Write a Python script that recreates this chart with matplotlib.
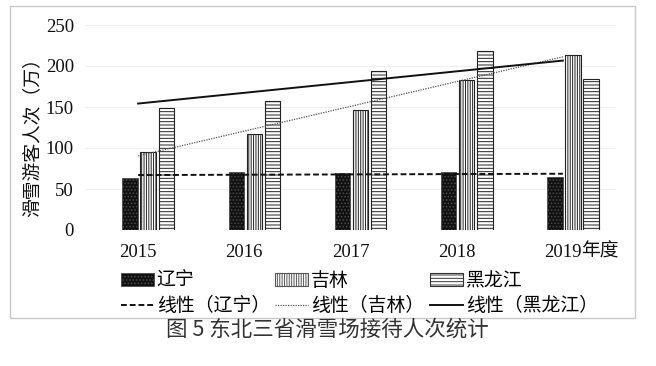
import numpy as np
import matplotlib
matplotlib.use("Agg")
import matplotlib.pyplot as plt
from matplotlib.patches import Rectangle, Patch
from matplotlib.lines import Line2D

years = ["2015", "2016", "2017", "2018", "2019"]
year_suffix = "年度"
liaoning = [63, 71, 69, 71, 65]
jilin = [95, 117, 146, 183, 213]
heilongjiang = [149, 157, 194, 218, 184]
series_names = ["辽宁", "吉林", "黑龙江"]
trend_names = ["线性（辽宁）", "线性（吉林）", "线性（黑龙江）"]
yticks = [0, 50, 100, 150, 200, 250]
ylabel = "滑雪游客人次（万）"
caption = "图 5 东北三省滑雪场接待人次统计"

plt.rcParams['font.family'] = ['Liberation Serif', 'Noto Sans CJK SC', 'DejaVu Sans']
plt.rcParams['hatch.linewidth'] = 0.7

W, H = 656, 366
fig = plt.figure(figsize=(W / 100, H / 100), dpi=100)

# outer frame
fig.patches.append(Rectangle((10 / W, 1 - 318 / H), 625 / W, 312 / H,
                             transform=fig.transFigure, fill=False,
                             edgecolor='#c8c8c8', linewidth=1.0))

ax = fig.add_axes([85 / W, 1 - 230 / H, 531 / W, 205 / H])
x = np.arange(len(years))
bw = 0.145
offsets = [-0.075, 0.095, 0.265]

ax.bar(x + offsets[0], liaoning, bw, facecolor='#111111', edgecolor='#4a4a4a',
       hatch='.....', linewidth=0.6, zorder=3)
ax.bar(x + offsets[1], jilin, bw, facecolor='white', edgecolor='#222222',
       hatch='|||||||', linewidth=0.8, zorder=3)
ax.bar(x + offsets[2], heilongjiang, bw, facecolor='white', edgecolor='#222222',
       hatch='-----', linewidth=0.8, zorder=3)

styles = [dict(color='#111111', linestyle=(0, (3, 1.5)), linewidth=1.4),
          dict(color='#555555', linestyle=(0, (1, 1)), linewidth=0.9),
          dict(color='#111111', linestyle='-', linewidth=1.4)]
for vals, st in zip([liaoning, jilin, heilongjiang], styles):
    k, b = np.polyfit(x, vals, 1)
    xs = np.array([x[0], x[-1]], dtype=float)
    ax.plot(xs, k * xs + b, zorder=4, **st)

ax.set_xlim(-0.5, 4.5)
ax.set_ylim(0, 250)
ax.set_yticks(yticks)
ax.set_yticklabels([str(v) for v in yticks], fontsize=13.5)
ax.set_xticks(x)
ax.set_xticklabels(years, fontsize=13.5)
ax.tick_params(axis='both', length=0, colors='#111111')
ax.tick_params(axis='y', pad=8)
ax.tick_params(axis='x', pad=10)
for s in ax.spines.values():
    s.set_visible(False)
ax.yaxis.grid(True, color='#eeeeee', linewidth=0.8, zorder=0)
ax.set_axisbelow(True)

# "年度" right after the last year label
ax.annotate(year_suffix, xy=(x[-1], 0), xycoords=('data', 'axes fraction'),
            xytext=(18, -21), textcoords='offset pixels', ha='left', va='center',
            fontsize=13.5, color='#111111', family=['Noto Sans CJK SC'])

ax.set_ylabel(ylabel, fontsize=13.5, family=['Noto Sans CJK SC'], color='#111111')
ax.yaxis.set_label_coords((42 - 85) / 531, (230 - 133) / 205)

handles = [
    Patch(facecolor='#111111', edgecolor='#4a4a4a', hatch='.....', linewidth=0.6),
    Line2D([], [], **styles[0]),
    Patch(facecolor='white', edgecolor='#555555', hatch='|||||||', linewidth=0.8),
    Line2D([], [], **styles[1]),
    Patch(facecolor='white', edgecolor='#333333', hatch='-----', linewidth=0.8),
    Line2D([], [], **styles[2]),
]
labels = [series_names[0], trend_names[0], series_names[1], trend_names[1],
          series_names[2], trend_names[2]]
fig.legend(handles, labels, ncol=3, loc='upper left',
           bbox_to_anchor=(121 / W, 1 - 270 / H), frameon=False,
           prop={'family': ['Noto Sans CJK SC'], 'size': 13.6},
           handlelength=1.75, handleheight=0.7, handletextpad=0.15,
           columnspacing=0.28, labelspacing=0.22, borderpad=0, borderaxespad=0)

fig.text(327 / W, 1 - 330 / H, caption, ha='center', va='center', fontsize=15.5,
         family=['Noto Sans CJK SC'], color='#333333')

fig.savefig("out.png", dpi=100)
